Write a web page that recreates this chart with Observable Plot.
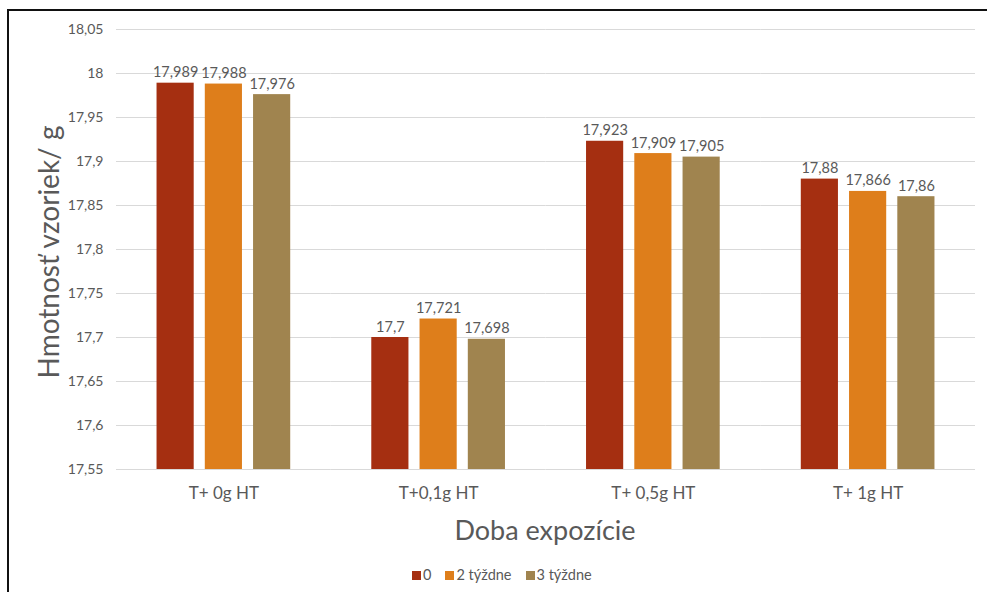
<!DOCTYPE html>
<html>
<head>
<meta charset="utf-8">
<script src="https://cdn.jsdelivr.net/npm/d3@7"></script>
<script src="https://cdn.jsdelivr.net/npm/@observablehq/plot@0.6"></script>
<style>
  body { margin: 0; width: 987px; height: 592px; overflow: hidden; position: relative; background: #fff; font-family: Lato, "Open Sans", sans-serif; color: #595959; }
  .frame { position: absolute; left: 7px; top: 9px; width: 1000px; height: 600px; border-top: 2px solid #111; border-left: 2px solid #111; }
  #chart { position: absolute; left: 0; top: 0; }
  .ytitle { position: absolute; left: 48px; top: 252px; transform: translate(-50%, -50%) rotate(-90deg); font-size: 28px; white-space: nowrap; }
  .xtitle { position: absolute; left: 545px; top: 529px; transform: translate(-50%, -50%); font-size: 27px; white-space: nowrap; }
  .legend { position: absolute; left: 412px; top: 566px; display: flex; gap: 14px; font-size: 14.5px; line-height: 18px; }
  .legend span { display: flex; align-items: center; }
  .legend i { display: inline-block; width: 9px; height: 9px; margin-right: 2px; }
</style>
</head>
<body>
<div class="frame"></div>
<div id="chart"></div>
<div class="ytitle">Hmotnosť vzoriek/ g</div>
<div class="xtitle">Doba expozície</div>
<div class="legend" id="legend"></div>
<script>
// Sample mass by exposure group, measured at three times
const categories = ["T+ 0g HT", "T+0,1g HT", "T+ 0,5g HT", "T+ 1g HT"];
const series = ["0", "2 týždne", "3 týždne"];
const values0 = [17.989, 17.7, 17.923, 17.88];
const values2 = [17.988, 17.721, 17.909, 17.866];
const values3 = [17.976, 17.698, 17.905, 17.86];
const yTicks = [17.55, 17.6, 17.65, 17.7, 17.75, 17.8, 17.85, 17.9, 17.95, 18, 18.05];
const colors = ["#a52f11", "#de7e1b", "#a0844f"];

const seriesValues = [values0, values2, values3];
const data = categories.flatMap((c, i) =>
  series.map((s, j) => ({category: c, series: s, value: seriesValues[j][i]}))
);

// decimal comma
const fmt = v => String(+v.toFixed(3)).replace(".", ",");

const chart = Plot.plot({
  width: 987,
  height: 555,
  marginLeft: 116,
  marginRight: 12,
  marginTop: 29,
  marginBottom: 86,
  style: {fontFamily: "Lato, 'Open Sans', sans-serif", color: "#595959", background: "transparent"},
  fx: {domain: categories, padding: 0, label: null, round: false},
  x: {domain: series, paddingInner: 0.23, paddingOuter: 0.84, round: false, axis: null},
  y: {domain: [17.55, 18.05], label: null},
  color: {domain: series, range: colors},
  marks: [
    Plot.gridY(yTicks, {stroke: "#d9d9d9", strokeOpacity: 1, strokeWidth: 1}),
    Plot.axisY(yTicks, {tickSize: 0, tickPadding: 13, fontSize: 14, fill: "#595959", tickFormat: fmt, label: null}),
    Plot.axisFx({anchor: "bottom", tickSize: 0, tickPadding: 17, fontSize: 17, fill: "#595959", label: null}),
    Plot.barY(data, {fx: "category", x: "series", y1: 17.55, y2: "value", fill: "series"}),
    Plot.text(data, {fx: "category", x: "series", y: "value", text: d => fmt(d.value), lineAnchor: "bottom", dy: -6, fontSize: 14.5, fill: "#595959"})
  ]
});
document.getElementById("chart").append(chart);

const legend = document.getElementById("legend");
series.forEach((s, j) => {
  const item = document.createElement("span");
  const sw = document.createElement("i");
  sw.style.background = colors[j];
  item.append(sw, document.createTextNode(s));
  legend.append(item);
});
</script>
</body>
</html>
